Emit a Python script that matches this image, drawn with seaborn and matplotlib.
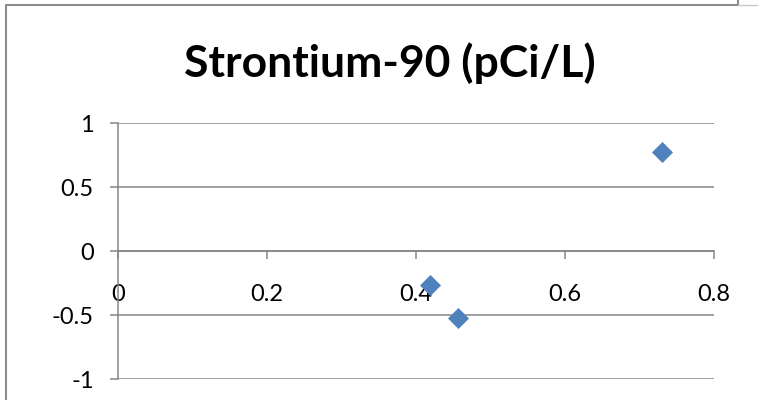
import matplotlib
matplotlib.use("Agg")
import matplotlib.pyplot as plt
from matplotlib.lines import Line2D
import seaborn as sns
import pandas as pd

# Strontium-90 sample results (pCi/L)
x_values = [0.419, 0.456, 0.730]
y_values = [-0.266, -0.526, 0.771]
x_ticks = [0, 0.2, 0.4, 0.6, 0.8]
y_ticks = [-1, -0.5, 0, 0.5, 1]
title = "Strontium-90 (pCi/L)"

sns.set_theme(style="white")
plt.rcParams["font.family"] = ["Lato", "DejaVu Sans"]

W, H = 758, 400
fig = plt.figure(figsize=(W / 100, H / 100), dpi=100)
fig.patch.set_facecolor("white")

ax = fig.add_axes([118 / W, 21 / H, 596 / W, 256 / H])
df = pd.DataFrame({"x": x_values, "y": y_values})
sns.scatterplot(data=df, x="x", y="y", ax=ax, marker="D", s=115,
                color="#4F81BD", edgecolor="#4F81BD", linewidth=0, zorder=5)

axis_grey = "#868686"
ax.set_xlim(0, 0.8)
ax.set_ylim(-1, 1)
ax.set_xticks(x_ticks)
ax.set_yticks(y_ticks)
ax.set_xticklabels(["0", "0.2", "0.4", "0.6", "0.8"])
ax.set_yticklabels(["-1", "-0.5", "0", "0.5", "1"])
ax.set_xlabel("")
ax.set_ylabel("")

ax.grid(False)
for yv in y_ticks:
    ax.axhline(yv, color=axis_grey, lw=1.1, zorder=1)

for side in ("top", "right"):
    ax.spines[side].set_visible(False)
ax.spines["bottom"].set_position(("data", 0))
ax.spines["bottom"].set_color(axis_grey)
ax.spines["bottom"].set_linewidth(1.1)
ax.spines["left"].set_color(axis_grey)
ax.spines["left"].set_linewidth(1.1)

ax.tick_params(axis="x", direction="out", length=5.5, width=1.1,
               color=axis_grey, pad=18, labelsize=17, labelcolor="black",
               bottom=True)
ax.tick_params(axis="y", direction="out", length=5.5, width=1.1,
               color=axis_grey, pad=12, labelsize=17, labelcolor="black",
               left=True)
ax.patch.set_alpha(0)

fig.text(390 / W, (H - 77) / H, title, ha="center", va="baseline",
         fontsize=32, fontweight="bold", color="black")

# worksheet cell borders around the chart
border = "#8c8c8c"
def px_line(x0, y0, x1, y1, color=border, lw=1.5):
    fig.add_artist(Line2D([x0 / W, x1 / W], [1 - y0 / H, 1 - y1 / H],
                          transform=fig.transFigure, color=color, lw=lw))

px_line(6, 5, 6, 400)
px_line(6, 5, 738, 5)
px_line(738, 0, 738, 5)
px_line(738, 4.5, 758, 4.5, color="#c8c8c8", lw=1.0)

fig.savefig("out.png", dpi=100, facecolor="white")
